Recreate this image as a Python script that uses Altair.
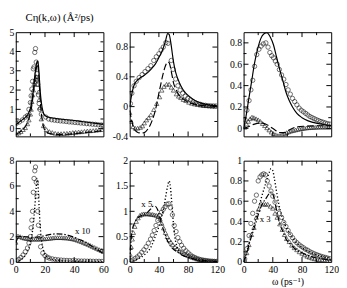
import altair as alt
import pandas as pd

FONT = "Liberation Serif, DejaVu Serif, serif"

# ---------------- top-left panel (omega 0..60) ----------------
TL_circ_x = [0.5, 2.5, 4.5, 6.5, 8, 9, 10, 10.5, 11, 11.5, 12, 12.5, 13, 13.5, 14, 14.5, 15, 15.5, 16, 16.5, 17.5,
             20.5, 22.5, 24.5, 26.5, 28.5, 30.5, 32.5, 34.5, 36.5, 38.5, 40.5, 42.5, 44.5, 46.5, 48.5, 50.5, 52.5,
             54.5, 56.5, 58.5, 60]
TL_circ_y = [0.28, 0.35, 0.45, 0.6, 0.68, 1.0, 1.35, 1.7, 2.05, 2.45, 3.1, 3.2, 3.95, 4.15, 3.45, 2.85, 2.3, 1.75,
             1.3, 1.0, 0.75, 0.6, 0.5, 0.46, 0.44, 0.42, 0.4, 0.39, 0.37, 0.35, 0.34, 0.32, 0.31, 0.29, 0.28, 0.26,
             0.25, 0.23, 0.22, 0.2, 0.19, 0.17]
TL_solid_x = [0, 3, 6, 8, 10, 11, 12, 13, 14, 14.8, 15.5, 16, 16.5, 17, 18, 19, 20, 22, 25, 30, 35, 40, 45, 50, 55, 60]
TL_solid_y = [0.2, 0.38, 0.55, 0.7, 1.05, 1.4, 1.95, 2.7, 3.3, 3.5, 3.3, 2.8, 2.2, 1.7, 1.1, 0.8, 0.68, 0.6, 0.55,
              0.5, 0.46, 0.42, 0.37, 0.32, 0.27, 0.22]
TL_tri_x = [0.5, 2, 3.5, 5, 6.5, 8, 9, 10, 10.5, 11, 11.5, 12, 12.5, 13, 13.5, 14, 14.5, 15, 15.5, 16, 16.5, 17.5, 19,
            21, 23, 25, 27, 29, 31, 33, 35, 37, 39, 41, 43, 45, 47, 49, 51, 53, 55, 57, 59]
TL_tri_y = [-0.3, -0.22, -0.15, -0.05, 0.05, 0.25, 0.45, 0.75, 1.0, 1.4, 1.75, 2.0, 2.3, 2.45, 2.6, 2.7, 2.55, 2.3,
            1.9, 1.5, 1.1, 0.5, 0.15, -0.05, -0.15, -0.2, -0.24, -0.26, -0.26, -0.25, -0.24, -0.22, -0.2, -0.19,
            -0.17, -0.16, -0.14, -0.12, -0.11, -0.1, -0.08, -0.06, -0.05]
TL_dash_x = [0, 2, 4, 6, 8, 10, 11, 12, 13, 14, 14.8, 15.5, 16, 16.5, 17, 18, 19, 20, 22, 25, 30, 35, 40, 45, 50, 55, 60]
TL_dash_y = [-0.3, -0.22, -0.1, 0.05, 0.3, 0.8, 1.2, 1.8, 2.5, 3.1, 3.35, 3.0, 2.4, 1.8, 1.2, 0.5, 0.1, -0.1, -0.22,
             -0.28, -0.3, -0.29, -0.26, -0.22, -0.18, -0.14, -0.1]

# ---------------- top-middle panel (omega 0..120) ----------------
TM_circ_x = [1, 3, 6, 9, 13, 17, 21, 25, 29, 33, 36.5, 40, 43, 46, 49.5, 52.5, 57, 59.5, 63, 66, 69, 72.5, 76, 79.5,
             83, 86.5, 90, 93.5, 97, 100.5, 104, 107.5, 111, 114.5, 118]
TM_circ_y = [0.04, 0.18, 0.28, 0.34, 0.39, 0.43, 0.47, 0.51, 0.55, 0.62, 0.67, 0.71, 0.76, 0.8, 0.86, 0.85, 0.62, 0.5,
             0.37, 0.28, 0.22, 0.18, 0.14, 0.11, 0.09, 0.065, 0.05, 0.04, 0.03, 0.02, 0.017, 0.013, 0.01, 0.009, 0.008]
TM_solid_x = [0, 2, 5, 10, 15, 20, 25, 30, 35, 40, 45, 49, 52, 54, 56, 58, 60, 63, 66, 70, 75, 80, 90, 100, 110, 120]
TM_solid_y = [0.0, 0.12, 0.26, 0.35, 0.39, 0.42, 0.46, 0.51, 0.57, 0.66, 0.76, 0.88, 0.98, 0.97, 0.88, 0.74, 0.6, 0.46,
              0.37, 0.28, 0.2, 0.15, 0.08, 0.04, 0.02, 0.01]
TM_tri_x = [0, 2, 4.5, 7.5, 11, 14.5, 17.5, 20, 23, 26, 29, 33, 37, 41, 44, 47, 50.5, 54, 57, 60, 64, 67, 70, 73.5, 77,
            81, 85, 89, 93, 97, 101, 105, 109, 113, 117]
TM_tri_y = [-0.08, -0.2, -0.27, -0.29, -0.29, -0.28, -0.26, -0.22, -0.18, -0.15, -0.11, -0.04, 0.04, 0.13, 0.22, 0.27,
            0.3, 0.3, 0.26, 0.22, 0.17, 0.14, 0.12, 0.095, 0.08, 0.058, 0.045, 0.035, 0.027, 0.02, 0.015, 0.012, 0.009,
            0.007, 0.005]
TM_dash_x = [0, 3, 6, 10, 15, 20, 25, 28, 31, 34, 37, 40, 43, 46, 49, 52, 54, 56, 58, 60, 63, 66, 70, 75, 80, 90, 100,
             110, 120]
TM_dash_y = [-0.05, -0.2, -0.3, -0.34, -0.355, -0.35, -0.3, -0.25, -0.18, -0.09, 0.03, 0.18, 0.32, 0.45, 0.55, 0.6,
             0.59, 0.52, 0.42, 0.32, 0.24, 0.18, 0.13, 0.09, 0.06, 0.03, 0.015, 0.008, 0.005]

# ---------------- top-right panel (omega 0..120) ----------------
TR_circ_x = [2, 4.5, 7.5, 10, 12.5, 15, 18, 21, 24, 27, 30.5, 33.5, 36, 38.5, 41, 43.5, 46, 49, 52, 55, 58, 61, 64, 67,
             70, 73, 76, 79, 82, 85, 88, 91, 94, 97, 100, 103, 106, 109, 112, 115, 118]
TR_circ_y = [0.08, 0.17, 0.26, 0.36, 0.45, 0.58, 0.69, 0.74, 0.77, 0.79, 0.8, 0.76, 0.71, 0.68, 0.66, 0.63, 0.6, 0.55,
             0.5, 0.46, 0.41, 0.36, 0.32, 0.28, 0.25, 0.22, 0.19, 0.17, 0.155, 0.14, 0.125, 0.11, 0.1, 0.09, 0.08,
             0.072, 0.064, 0.057, 0.05, 0.044, 0.04]
TR_solid_x = [0, 3, 6.5, 11, 15, 19.5, 23.5, 28, 32, 36.5, 41, 45, 49.5, 54, 58, 62.5, 67, 73, 80, 88.5, 101, 110, 120]
TR_solid_y = [0, 0.1, 0.25, 0.44, 0.61, 0.75, 0.84, 0.885, 0.895, 0.855, 0.78, 0.67, 0.55, 0.44, 0.34, 0.26, 0.2,
              0.14, 0.1, 0.07, 0.046, 0.036, 0.028]
TR_tri_x = [1.5, 4, 6.5, 9, 11.5, 14, 17, 20, 23, 26, 29, 32, 35, 38, 41, 44, 47, 50, 53, 56, 59, 62, 65, 68, 71, 74,
            77, 80, 83, 86, 89, 92, 95, 98, 101, 104, 107, 110, 113, 116, 119]
TR_tri_y = [0.01, 0.04, 0.065, 0.09, 0.105, 0.1, 0.09, 0.08, 0.065, 0.045, 0.025, 0.005, -0.015, -0.035, -0.05, -0.06,
            -0.068, -0.068, -0.06, -0.05, -0.04, -0.032, -0.025, -0.02, -0.015, -0.01, -0.006, -0.002, 0.001, 0.004,
            0.006, 0.008, 0.009, 0.01, 0.011, 0.012, 0.012, 0.012, 0.012, 0.012, 0.012]
TR_dash_x = [0, 6.5, 15, 23.5, 30, 36.5, 43, 49.5, 56, 62.5, 71, 84, 101, 120]
TR_dash_y = [0, 0.015, 0.04, 0.05, 0.04, 0.015, -0.015, -0.04, -0.04, -0.015, 0.01, 0.02, 0.024, 0.024]

# ---------------- bottom-left panel (omega 0..60) ----------------
BL_circ_x = [0.5, 2, 3.5, 5, 6.5, 8, 9, 10, 10.5, 11, 11.5, 12, 12.5, 13, 13.5, 14, 14.5, 15, 15.5, 16, 17, 18.5, 20,
             21.5, 23, 25, 27, 29, 31, 33, 35, 37, 39, 41, 43, 45, 47, 49, 51, 53, 55, 57, 59]
BL_circ_y = [0.1, 0.2, 0.35, 0.55, 0.8, 1.1, 1.5, 2.0, 2.7, 3.3, 4.0, 5.5, 6.6, 7.2, 7.5, 6.3, 5.2, 4.0, 2.9, 2.0, 1.2,
             0.7, 0.5, 0.38, 0.3, 0.24, 0.2, 0.17, 0.15, 0.13, 0.12, 0.11, 0.1, 0.09, 0.08, 0.07, 0.07, 0.06, 0.06,
             0.05, 0.05, 0.05, 0.04]
BL_dot_x = [0, 3, 6, 8, 10, 11, 12, 13, 14, 14.5, 15, 15.5, 16, 16.5, 17, 18, 19, 20, 22, 25, 30, 40, 50, 60]
BL_dot_y = [0, 0.15, 0.45, 0.8, 1.5, 2.1, 3.0, 4.3, 5.9, 6.6, 6.4, 5.5, 4.3, 3.2, 2.4, 1.4, 0.9, 0.6, 0.35, 0.2, 0.12,
            0.06, 0.04, 0.03]
BL_tri_x = [0, 1.5, 3, 4.5, 6, 7.5, 9, 10.5, 12, 13.5, 15, 16.5, 18, 19.5, 21, 22.5, 24, 25.5, 27, 28.5, 30, 31.5, 33,
            34.5, 36, 37.5, 39, 40.5, 42, 43.5, 45, 46.5, 48, 49.5, 51, 52.5, 54, 55.5, 57, 58.5, 60]
BL_tri_y = [1.55, 2.05, 2.0, 1.92, 1.88, 1.85, 1.82, 1.8, 1.8, 1.8, 1.8, 1.8, 1.82, 1.82, 1.84, 1.86, 1.88, 1.9, 1.92,
            1.92, 1.92, 1.92, 1.9, 1.9, 1.88, 1.85, 1.82, 1.78, 1.72, 1.66, 1.6, 1.52, 1.45, 1.38, 1.3, 1.22, 1.14,
            1.06, 0.98, 0.9, 0.82]
BL_dd_x = [0, 1.5, 3, 5, 8, 12, 16, 20, 24, 28, 32, 36, 40, 44, 48, 52, 56, 60]
BL_dd_y = [1.5, 1.9, 2.0, 2.0, 1.98, 1.95, 1.98, 2.08, 2.18, 2.22, 2.2, 2.1, 1.95, 1.75, 1.55, 1.25, 0.98, 0.65]

# ---------------- bottom-middle panel (omega 0..120) ----------------
BM_circ_x = [1.5, 4.5, 7.5, 10.5, 13.5, 16.5, 19.5, 22.5, 25.5, 28.5, 31, 33.5, 36, 38.5, 41, 43.5, 46, 48.5, 51,
             53.5, 56, 58.5, 61, 63.5, 66, 68.5, 71, 74, 77, 80, 83, 86, 89, 92, 95, 98, 101, 104, 107, 110, 113,
             116, 119]
BM_circ_y = [0.02, 0.04, 0.07, 0.1, 0.14, 0.19, 0.24, 0.3, 0.37, 0.45, 0.53, 0.62, 0.72, 0.82, 0.92, 0.98, 1.04, 1.09,
             1.14, 1.15, 1.07, 0.93, 0.72, 0.6, 0.48, 0.4, 0.33, 0.27, 0.22, 0.18, 0.14, 0.11, 0.09, 0.07, 0.055,
             0.045, 0.035, 0.028, 0.022, 0.018, 0.015, 0.012, 0.01]
BM_dot_x = [0, 10, 20, 30, 35, 40, 44, 47, 50, 52, 54, 56, 58, 60, 62, 65, 70, 75, 80, 90, 100, 110, 120]
BM_dot_y = [0, 0.05, 0.14, 0.32, 0.5, 0.7, 0.9, 1.1, 1.35, 1.5, 1.6, 1.45, 1.1, 0.75, 0.48, 0.3, 0.17, 0.12, 0.09,
            0.05, 0.03, 0.02, 0.01]
BM_tri_x = [0.5, 2, 3.5, 5, 7, 9, 11.5, 14, 16.5, 19, 21.5, 24, 26.5, 29, 31.5, 34, 36.5, 39, 41.5, 44, 46.5, 49,
            51.5, 54, 56.5, 59, 62, 65, 68, 71, 74, 77, 80, 83, 86, 89, 92, 95, 98, 101, 104, 107, 110, 113, 116, 119]
BM_tri_y = [0.15, 0.3, 0.45, 0.58, 0.7, 0.8, 0.87, 0.92, 0.94, 0.95, 0.95, 0.95, 0.95, 0.94, 0.94, 0.93, 0.92, 0.9,
            0.85, 0.76, 0.67, 0.58, 0.5, 0.44, 0.39, 0.34, 0.3, 0.26, 0.23, 0.2, 0.17, 0.15, 0.13, 0.11, 0.09, 0.075,
            0.06, 0.05, 0.04, 0.035, 0.03, 0.025, 0.02, 0.017, 0.014, 0.012]
BM_dd_x = [0, 1, 2, 4, 7, 10, 13, 17, 21, 25, 29, 32, 35, 38, 41, 44, 48, 52, 56, 60, 64, 68, 74, 80, 90, 100, 110, 120]
BM_dd_y = [0.0, 0.25, 0.45, 0.66, 0.78, 0.85, 0.89, 0.92, 0.95, 0.99, 1.05, 1.1, 1.1, 1.04, 0.9, 0.74, 0.56, 0.41,
           0.31, 0.25, 0.21, 0.17, 0.12, 0.09, 0.05, 0.025, 0.015, 0.01]

# ---------------- bottom-right panel (omega 0..120) ----------------
BR_circ_x = [1.5, 4.5, 7.5, 10, 12.5, 15, 17.5, 20, 22.5, 25, 27.5, 30, 32.5, 35, 37.5, 40, 43, 46, 49, 52, 55, 58,
             61, 64, 67, 70, 73, 76, 79, 82, 85, 88, 91, 94, 97, 100, 103, 106, 109, 112, 115, 118]
BR_circ_y = [0.03, 0.13, 0.26, 0.38, 0.48, 0.6, 0.66, 0.8, 0.84, 0.86, 0.87, 0.86, 0.8, 0.75, 0.7, 0.65, 0.59, 0.53,
             0.48, 0.44, 0.39, 0.35, 0.31, 0.27, 0.24, 0.21, 0.19, 0.17, 0.155, 0.14, 0.125, 0.115, 0.1, 0.09, 0.08,
             0.072, 0.064, 0.056, 0.05, 0.044, 0.038, 0.032]
BR_dot_x = [0, 5, 10, 15, 20, 25, 30, 35, 37.5, 40, 42, 45, 48, 52, 56, 60, 65, 70, 80, 90, 100, 110, 120]
BR_dot_y = [0, 0.12, 0.25, 0.38, 0.52, 0.65, 0.77, 0.88, 0.92, 0.9, 0.83, 0.7, 0.58, 0.46, 0.38, 0.32, 0.26, 0.21,
            0.14, 0.1, 0.07, 0.05, 0.035]
BR_tri_x = [1.3, 4.3, 7.3, 10.8, 14.2, 17.3, 20.3, 23.7, 27, 30, 33, 36.7, 40, 43, 46, 49.6, 53, 56, 59, 62.6, 66,
            69.5, 73, 76.4, 80, 83.4, 87, 90, 93.6, 97, 100.6, 104, 107.5, 111, 114, 118]
BR_tri_y = [0.02, 0.09, 0.17, 0.27, 0.34, 0.44, 0.52, 0.58, 0.57, 0.57, 0.57, 0.55, 0.53, 0.48, 0.44, 0.375, 0.32,
            0.27, 0.23, 0.2, 0.165, 0.14, 0.12, 0.1, 0.085, 0.07, 0.056, 0.047, 0.038, 0.031, 0.025, 0.02, 0.018,
            0.015, 0.013, 0.01]
BR_dd_x = [0, 4.3, 8.6, 13, 17.3, 21.6, 26, 30, 34.5, 37.5, 40, 43, 46, 49.6, 54, 58, 65, 71, 80, 93, 106, 120]
BR_dd_y = [0, 0.08, 0.2, 0.3, 0.4, 0.5, 0.58, 0.62, 0.67, 0.69, 0.67, 0.59, 0.48, 0.375, 0.3, 0.23, 0.17, 0.125, 0.09,
           0.053, 0.03, 0.022]

# ---------------- axis ticks / labels ----------------
X60_labels = [0, 20, 40, 60]
X60_major = [20, 40]
X60_minor = [10, 30, 50]
X120_labels = [0, 40, 80, 120]
X120_major = [40, 80]
X120_minor = [20, 60, 100]

TL_ylabels = [0, 1, 2, 3, 4, 5]
TL_ymajor = [0, 1, 2, 3, 4]
TL_yminor = [0.5, 1.5, 2.5, 3.5, 4.5]
TM_ylabels = [-0.4, 0, 0.4, 0.8]
TM_ymajor = [0, 0.4, 0.8]
TM_yminor = [-0.2, 0.2, 0.6]
TR_ylabels = [0, 0.2, 0.4, 0.6, 0.8]
TR_ymajor = [0, 0.2, 0.4, 0.6, 0.8]
TR_yminor = [0.1, 0.3, 0.5, 0.7]
BL_ylabels = [0, 2, 4, 6, 8]
BL_ymajor = [2, 4, 6]
BL_yminor = [1, 3, 5, 7]
BM_ylabels = [0, 0.5, 1, 1.5, 2]
BM_ymajor = [0.5, 1, 1.5]
BM_yminor = [0.25, 0.75, 1.25, 1.75]
BR_ylabels = [0, 0.2, 0.4, 0.6, 0.8, 1]
BR_ymajor = [0.2, 0.4, 0.6, 0.8]
BR_yminor = [0.1, 0.3, 0.5, 0.7, 0.9]

TITLE = "Cη(k,ω) (Å²/ps)"
XTITLE = "ω (ps⁻¹)"

W = 90
H_TOP = 107
H_BOT = 104

DASH = [7, 3]
DOT = [1.2, 2.2]
DASHDOT = [6, 2, 1.5, 2]
LABEL_EXPR = "replace(format(datum.value, '~g'), '\u2212', '-')"


def panel(series, xdom, ydom, H, xmaj, xmin, ymaj, ymin, xlabels, ylabels,
          title=None, xtitle=None, note=None):
    xsc = alt.Scale(domain=xdom, nice=False, zero=False)
    ysc = alt.Scale(domain=ydom, nice=False, zero=False)
    if xlabels is None:
        xaxis = None
    else:
        xkw = dict(values=xlabels, ticks=False, domain=False, grid=False, labelFont=FONT,
                   labelFontSize=10, labelPadding=3, labelFlush=False, labelColor="black",
                   labelExpr=LABEL_EXPR)
        if xtitle:
            xkw.update(title=xtitle, titleFont=FONT, titleFontSize=10, titleFontWeight="normal",
                       titlePadding=2, titleColor="black")
        xaxis = alt.Axis(**xkw)
    yaxis = alt.Axis(values=ylabels, ticks=False, domain=False, grid=False, labelFont=FONT,
                     labelFontSize=10, labelPadding=2, labelColor="black", labelExpr=LABEL_EXPR)

    def X(field="x"):
        if xtitle:
            return alt.X(f"{field}:Q", scale=xsc, axis=xaxis)
        return alt.X(f"{field}:Q", scale=xsc, axis=xaxis, title=None)

    def Y(field="y"):
        return alt.Y(f"{field}:Q", scale=ysc, axis=yaxis, title=None)

    layers = []
    for kind, xs, ys in series:
        df = pd.DataFrame({"x": xs, "y": ys})
        base = alt.Chart(df)
        if kind in ("circle", "triangle-up"):
            m = base.mark_point(shape=kind, filled=False, color="black", size=20,
                                strokeWidth=0.8, clip=True)
        else:
            kw = dict(color="black", strokeWidth=1.2, clip=True, interpolate="monotone")
            if kind == "dash":
                kw["strokeDash"] = DASH
            elif kind == "dot":
                kw["strokeDash"] = DOT
                kw["strokeWidth"] = 1.4
            elif kind == "dashdot":
                kw["strokeDash"] = DASHDOT
            m = base.mark_line(**kw)
        layers.append(m.encode(x=X(), y=Y()))

    # inward ticks on all four sides
    for vals, L in ((ymaj, 5), (ymin, 3)):
        df = pd.DataFrame({"y": vals})
        layers.append(alt.Chart(df).mark_rule(color="black", strokeWidth=1).encode(
            y=Y(), x=alt.value(0), x2=alt.value(L)))
        layers.append(alt.Chart(df).mark_rule(color="black", strokeWidth=1).encode(
            y=Y(), x=alt.value(W - L), x2=alt.value(W)))
    for vals, L in ((xmaj, 5), (xmin, 3)):
        df = pd.DataFrame({"x": vals})
        layers.append(alt.Chart(df).mark_rule(color="black", strokeWidth=1).encode(
            x=X(), y=alt.value(H), y2=alt.value(H - L)))
        layers.append(alt.Chart(df).mark_rule(color="black", strokeWidth=1).encode(
            x=X(), y=alt.value(0), y2=alt.value(L)))

    if note is not None:
        nx, ny, nt = note
        df = pd.DataFrame({"x": [nx], "y": [ny], "t": [nt]})
        layers.append(alt.Chart(df).mark_text(align="left", baseline="middle", font=FONT,
                                              fontSize=9, color="black").encode(
            x=X(), y=Y(), text="t:N"))

    props = dict(width=W, height=H)
    if title:
        props["title"] = alt.TitleParams(text=title, font=FONT, fontSize=11, fontWeight="normal",
                                         anchor="middle", offset=4, color="black")
    return alt.layer(*layers).properties(**props)


tl = panel([("circle", TL_circ_x, TL_circ_y), ("triangle-up", TL_tri_x, TL_tri_y),
            ("solid", TL_solid_x, TL_solid_y), ("dash", TL_dash_x, TL_dash_y)],
           [0, 60], [-0.4, 5], H_TOP, X60_major, X60_minor, TL_ymajor, TL_yminor, None, TL_ylabels,
           title=TITLE)
tm = panel([("circle", TM_circ_x, TM_circ_y), ("triangle-up", TM_tri_x, TM_tri_y),
            ("solid", TM_solid_x, TM_solid_y), ("dash", TM_dash_x, TM_dash_y)],
           [0, 120], [-0.4, 1.0], H_TOP, X120_major, X120_minor, TM_ymajor, TM_yminor, None, TM_ylabels)
tr = panel([("circle", TR_circ_x, TR_circ_y), ("triangle-up", TR_tri_x, TR_tri_y),
            ("solid", TR_solid_x, TR_solid_y), ("dash", TR_dash_x, TR_dash_y)],
           [0, 120], [-0.075, 0.9], H_TOP, X120_major, X120_minor, TR_ymajor, TR_yminor, None, TR_ylabels)
bl = panel([("circle", BL_circ_x, BL_circ_y), ("triangle-up", BL_tri_x, BL_tri_y),
            ("dot", BL_dot_x, BL_dot_y), ("dashdot", BL_dd_x, BL_dd_y)],
           [0, 60], [0, 8], H_BOT, X60_major, X60_minor, BL_ymajor, BL_yminor, X60_labels, BL_ylabels,
           note=(40.5, 2.4, "x 10"))
bm = panel([("circle", BM_circ_x, BM_circ_y), ("triangle-up", BM_tri_x, BM_tri_y),
            ("dot", BM_dot_x, BM_dot_y), ("dashdot", BM_dd_x, BM_dd_y)],
           [0, 120], [0, 2], H_BOT, X120_major, X120_minor, BM_ymajor, BM_yminor, X120_labels, BM_ylabels,
           note=(16, 1.15, "x 5"))
br = panel([("circle", BR_circ_x, BR_circ_y), ("triangle-up", BR_tri_x, BR_tri_y),
            ("dot", BR_dot_x, BR_dot_y), ("dashdot", BR_dd_x, BR_dd_y)],
           [0, 120], [0, 1], H_BOT, X120_major, X120_minor, BR_ymajor, BR_yminor, X120_labels, BR_ylabels,
           xtitle=XTITLE, note=(22, 0.42, "x 3"))

chart = alt.ConcatChart(
    concat=[tl, tm, tr, bl, bm, br], columns=3,
    spacing={"row": 25, "column": 27}, align="each", bounds="flush",
).properties(padding=0, background="white").configure_view(
    stroke="black", strokeWidth=1
).configure_axis(labelFont=FONT, titleFont=FONT).configure_title(font=FONT)

chart.save("out.html", embed_options={"renderer": "svg", "actions": False})
